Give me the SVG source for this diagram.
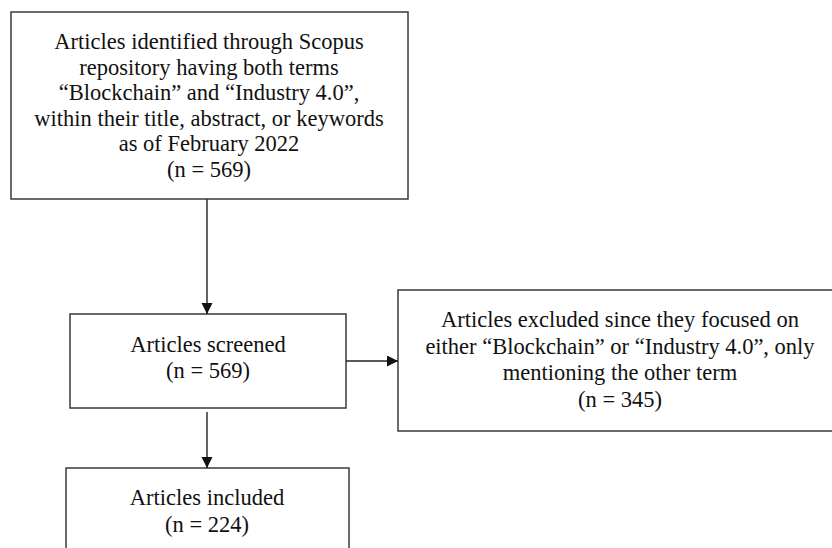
<svg xmlns="http://www.w3.org/2000/svg" width="832" height="548" viewBox="0 0 832 548">
  <style>
    .box { fill: #ffffff; stroke: #3a3a3a; stroke-width: 1.5; }
    .lbl { font-family: "Liberation Serif", "Times New Roman", serif; font-size: 22.5px; fill: #111111; text-anchor: middle; }
    .conn { stroke: #222222; stroke-width: 1.4; fill: none; }
  </style>
  <defs>
    <marker id="arrow" markerUnits="userSpaceOnUse" markerWidth="12" markerHeight="12" refX="11" refY="5.5" orient="auto">
      <path d="M0,0 L11,5.5 L0,11 Z" fill="#111111"/>
    </marker>
  </defs>
  <rect width="832" height="548" fill="#ffffff"/>

  <g id="identified">
    <rect class="box" x="11" y="12" width="397" height="187"/>
    <text class="lbl" x="209" y="49">Articles identified through Scopus</text>
    <text class="lbl" x="209" y="74.6">repository having both terms</text>
    <text class="lbl" x="209" y="100.2">“Blockchain” and “Industry 4.0”,</text>
    <text class="lbl" x="209" y="125.8">within their title, abstract, or keywords</text>
    <text class="lbl" x="209" y="151.4">as of February 2022</text>
    <text class="lbl" x="209" y="177">(n = 569)</text>
  </g>

  <g id="screened">
    <rect class="box" x="70" y="314" width="276" height="94"/>
    <text class="lbl" x="208" y="352">Articles screened</text>
    <text class="lbl" x="208" y="378">(n = 569)</text>
  </g>

  <g id="excluded">
    <rect class="box" x="398" y="290" width="444" height="141"/>
    <text class="lbl" x="620" y="327">Articles excluded since they focused on</text>
    <text class="lbl" x="620" y="353.5">either “Blockchain” or “Industry 4.0”, only</text>
    <text class="lbl" x="620" y="380">mentioning the other term</text>
    <text class="lbl" x="620" y="406.5">(n = 345)</text>
  </g>

  <g id="included">
    <rect class="box" x="66" y="468" width="283" height="100"/>
    <text class="lbl" x="207" y="505">Articles included</text>
    <text class="lbl" x="207" y="531.5">(n = 224)</text>
  </g>

  <g id="connectors">
    <line class="conn" x1="207" y1="199" x2="207" y2="314" marker-end="url(#arrow)"/>
    <line class="conn" x1="346" y1="361" x2="398" y2="361" marker-end="url(#arrow)"/>
    <line class="conn" x1="207" y1="412" x2="207" y2="468" marker-end="url(#arrow)"/>
  </g>
</svg>
